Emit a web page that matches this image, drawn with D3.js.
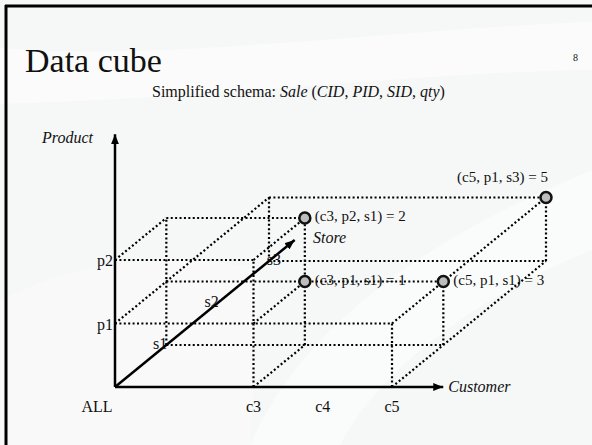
<!DOCTYPE html>
<html>
<head>
<meta charset="utf-8">
<title>Data cube</title>
<script src="https://d3js.org/d3.v7.min.js"></script>
<style>
  body { margin: 0; background: #fff; }
  svg text { font-family: "Liberation Serif", "Times New Roman", serif; fill: #111; }
</style>
</head>
<body>
<svg id="cube" width="592" height="445"></svg>
<script>
// dimension levels (ALL = the aggregate at the origin)
const customers = ["ALL", "c3", "c4", "c5"];
const products = ["ALL", "p1", "p2"];
const stores = ["ALL", "s1", "s2", "s3"];

// non-empty cells of Sale with their qty
const cellCustomer = ["c3", "c3", "c5", "c5"];
const cellProduct = ["p2", "p1", "p1", "p1"];
const cellStore = ["s1", "s1", "s1", "s3"];
const cellQty = [2, 1, 3, 5];

const axisNames = ["Customer", "Product", "Store"];

function drawCube() {
    const svg = d3.select('#cube');

    // slide background + frame
    svg.append('rect').attr('width', 592).attr('height', 445).attr('fill', '#f6f7f7');
    svg.append('path')
        .attr('d', 'M0,48 C160,62 380,30 592,22 L592,70 C420,72 220,98 0,104 Z')
        .attr('fill', '#fff').attr('opacity', 0.55);
    svg.append('path')
        .attr('d', 'M250,445 C300,330 420,240 592,170 L592,250 C470,300 380,370 340,445 Z')
        .attr('fill', '#fff').attr('opacity', 0.45);
    svg.append('path')
        .attr('d', 'M0,300 C80,260 180,250 260,270 L250,445 L0,445 Z')
        .attr('fill', '#fff').attr('opacity', 0.3);
    svg.append('line').attr('x1', 5).attr('x2', 592).attr('y1', 6).attr('y2', 6)
        .attr('stroke', '#000').attr('stroke-width', 3);
    svg.append('line').attr('x1', 6).attr('x2', 6).attr('y1', 5).attr('y2', 445)
        .attr('stroke', '#000').attr('stroke-width', 3);

    svg.append('text').attr('x', 25).attr('y', 72)
        .style('font-size', '34px').text('Data cube');
    svg.append('text').attr('x', 573).attr('y', 61)
        .style('font-size', '10px').text('8');

    const sub = svg.append('text').attr('x', 152).attr('y', 97).style('font-size', '16px');
    sub.append('tspan').text('Simplified schema: ');
    sub.append('tspan').style('font-style', 'italic').text('Sale');
    sub.append('tspan').text(' (');
    ['CID', 'PID', 'SID', 'qty'].forEach((t, i) => {
        if (i) sub.append('tspan').text(', ');
        sub.append('tspan').style('font-style', 'italic').text(t);
    });
    sub.append('tspan').text(')');

    // scales: ALL sits two slots before c3 on the customer axis
    const custSlot = d3.scaleOrdinal().domain(customers).range([0, 2, 3, 4]);
    const x = d3.scaleLinear().domain([0, 4]).range([115, 392]);
    const prodIdx = d3.scaleOrdinal().domain(products).range([0, 1, 2]);
    const y = d3.scaleLinear().domain([0, 2]).range([387, 260]);
    const storeIdx = d3.scaleOrdinal().domain(stores).range([0, 1, 2, 3]);
    const depthX = d3.scaleLinear().domain([0, 3]).range([0, 154]);
    const depthY = d3.scaleLinear().domain([0, 3]).range([0, -126]);

    const proj = (c, p, s) => [x(c) + depthX(s), y(p) + depthY(s)];

    // wireframe: box from origin to every cell, edges on the axes left out
    const boxes = cellQty.map((q, i) => [custSlot(cellCustomer[i]), prodIdx(cellProduct[i]), storeIdx(cellStore[i])]);
    const edges = new Map();
    boxes.forEach(b => {
        [0, 1, 2].forEach(d => {
            const [e, f] = [0, 1, 2].filter(k => k !== d);
            [0, b[e]].forEach(ve => [0, b[f]].forEach(vf => {
                if (ve === 0 && vf === 0) return;
                const key = d + '|' + ve + '|' + vf;
                const old = edges.get(key);
                if (!old || old.len < b[d]) edges.set(key, { d, e, f, ve, vf, len: b[d] });
            }));
        });
    });

    const segs = Array.from(edges.values()).map(ed => {
        const a = [0, 0, 0];
        a[ed.e] = ed.ve; a[ed.f] = ed.vf;
        const z = a.slice(); z[ed.d] = ed.len;
        return [proj(...a), proj(...z)];
    });

    svg.append('g').selectAll('line').data(segs).enter().append('line')
        .attr('x1', d => d[0][0]).attr('y1', d => d[0][1])
        .attr('x2', d => d[1][0]).attr('y2', d => d[1][1])
        .attr('stroke', '#000').attr('stroke-width', 2.2)
        .attr('stroke-dasharray', '2 2.4');

    // arrow heads
    svg.append('defs').append('marker')
        .attr('id', 'arr').attr('viewBox', '0 0 10 8')
        .attr('refX', 10).attr('refY', 4)
        .attr('markerWidth', 10).attr('markerHeight', 8)
        .attr('markerUnits', 'userSpaceOnUse').attr('orient', 'auto')
        .append('path').attr('d', 'M0,0 L10,4 L0,8 Z').attr('fill', '#000');

    // axes: customer, product, store
    const o = proj(0, 0, 0);
    const ends = [proj(4.74, 0, 0), proj(0, 3.98, 0), proj(0, 0, 3.5)];
    svg.append('g').selectAll('line').data(ends).enter().append('line')
        .attr('x1', o[0]).attr('y1', o[1])
        .attr('x2', d => d[0]).attr('y2', d => d[1])
        .attr('stroke', '#000').attr('stroke-width', 2.5)
        .attr('marker-end', 'url(#arr)');

    const nameAt = [[ends[0][0] + 5, ends[0][1] + 5, 'start'], [93, 143, 'end'], [313, 243, 'start']];
    axisNames.forEach((n, i) => {
        svg.append('text').attr('x', nameAt[i][0]).attr('y', nameAt[i][1])
            .attr('text-anchor', nameAt[i][2])
            .style('font-size', '16px').style('font-style', 'italic').text(n);
    });

    // level labels
    svg.append('g').selectAll('text').data(customers).enter().append('text')
        .attr('x', d => d === 'ALL' ? x(0) - 18 : x(custSlot(d)))
        .attr('y', 412).attr('text-anchor', 'middle')
        .style('font-size', '16px').text(d => d);

    svg.append('g').selectAll('text').data(products.slice(1)).enter().append('text')
        .attr('x', x(0) - 2).attr('y', d => y(prodIdx(d)) + 6)
        .attr('text-anchor', 'end').style('font-size', '16px').text(d => d);

    svg.append('g').selectAll('text').data(stores.slice(1)).enter().append('text')
        .attr('x', d => proj(0, 0, storeIdx(d))[0] + (storeIdx(d) === 3 ? 12 : 1))
        .attr('y', d => proj(0, 0, storeIdx(d))[1] + 4)
        .attr('text-anchor', 'end').style('font-size', '16px').text(d => d);

    // cells
    const pts = boxes.map((b, i) => ({ p: proj(...b), i }));
    svg.append('g').selectAll('circle').data(pts).enter().append('circle')
        .attr('cx', d => d.p[0]).attr('cy', d => d.p[1]).attr('r', 5.5)
        .attr('fill', '#bdbdbd').attr('stroke', '#111').attr('stroke-width', 2.5);

    svg.append('g').selectAll('text').data(pts).enter().append('text')
        .attr('x', d => d.p[0] > 500 ? d.p[0] + 2 : d.p[0] + 10)
        .attr('y', d => d.p[0] > 500 ? d.p[1] - 16 : d.p[1] + 3)
        .attr('text-anchor', d => d.p[0] > 500 ? 'end' : 'start')
        .style('font-size', '15px')
        .text(d => `(${cellCustomer[d.i]}, ${cellProduct[d.i]}, ${cellStore[d.i]}) = ${cellQty[d.i]}`);
}

drawCube();
</script>
</body>
</html>
